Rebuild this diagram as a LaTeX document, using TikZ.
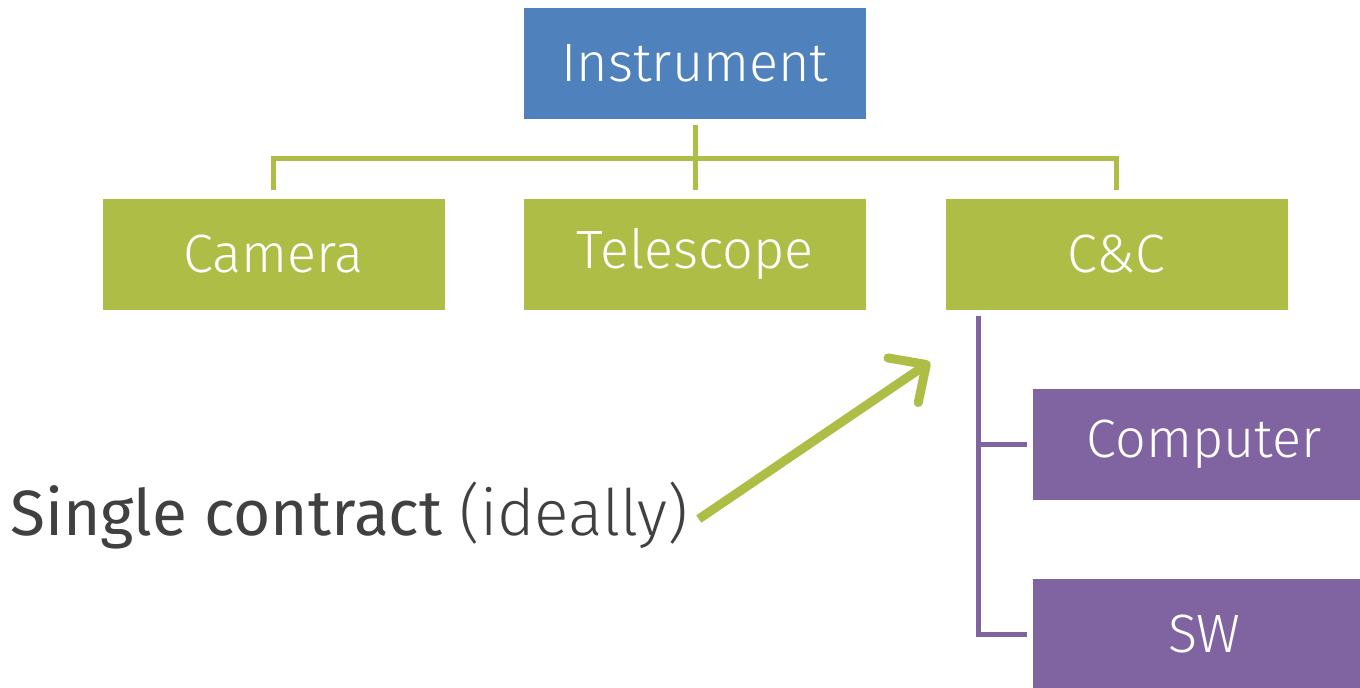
\documentclass[tikz,border=0pt]{standalone}
\usepackage{fontspec}
\setmainfont{Fira Sans}
\newfontfamily\lightfont{Fira Sans Light}
\usetikzlibrary{arrows.meta}
\definecolor{topblue}{HTML}{4F81BD}
\definecolor{leafgreen}{HTML}{AEBD46}
\definecolor{subpurple}{HTML}{8064A2}
\definecolor{labelgray}{HTML}{404040}
\begin{document}
\begin{tikzpicture}[x=1pt,y=-1pt,
  box/.style={draw=none,minimum width=342pt,minimum height=111pt,inner sep=0pt,
    text=white,font=\lightfont\fontsize{54}{58}\selectfont},
  greenline/.style={leafgreen,line width=5pt},
  purpleline/.style={subpurple,line width=5pt},
]
\useasboundingbox (0,0) rectangle (1360,688);
\node[box,fill=topblue]   (instr) at (695,63.5) {Instrument};
\node[box,fill=leafgreen] (cam)   at (273.5,254) {Camera};
\node[box,fill=leafgreen] (tel)   at (695,254) {Telescope};
\node[box,fill=leafgreen] (cc)    at (1116.5,254) {C\&C};
\node[box,fill=subpurple,anchor=west] (comp) at (1033,444.5) {Computer};
\node[box,fill=subpurple,anchor=west] (sw)   at (1033,634) {SW};
% tree connectors
\coordinate (bus) at (695,158);
\draw[greenline] ([yshift=-6pt]instr.south) -- ([yshift=8pt]tel.north);
\draw[greenline] ([yshift=8pt]cam.north) |- (bus) -| ([yshift=8pt]cc.north);
\coordinate (stem) at (978,316);
\draw[purpleline] (stem) |- ([xshift=-6pt]sw.west);
\draw[purpleline] (stem |- comp.west) -- ([xshift=-6pt]comp.west);
% callout
\node[anchor=west,inner sep=0pt,text=labelgray,font=\fontsize{64}{68}\selectfont] (lbl) at (10,516)
  {Single contract {\lightfont (ideally)}};
\coordinate (tip) at (930,362);
\draw[leafgreen,line width=9pt,-{Straight Barb[length=28pt,width=54pt,line cap=round,line join=round]}]
  ([xshift=10pt,yshift=-3pt]lbl.east) -- (tip);
\end{tikzpicture}
\end{document}
